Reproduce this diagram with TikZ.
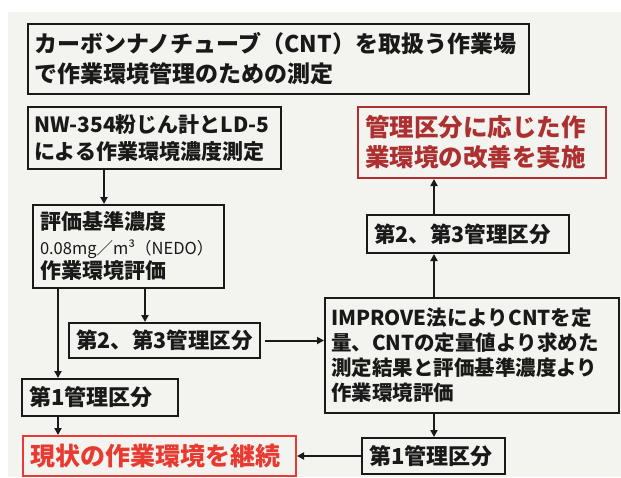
\documentclass[tikz,border=0pt]{standalone}
\usepackage{fontspec}
\setmainfont{Noto Sans CJK JP}
\usetikzlibrary{arrows.meta}
\definecolor{bgc}{RGB}{243,243,240}
\definecolor{darkred}{RGB}{172,48,48}
\definecolor{brightred}{RGB}{232,58,48}
\definecolor{inkc}{RGB}{25,25,25}
\tikzset{
  box/.style={draw=inkc, line width=2pt, anchor=north west, align=left,
    inner xsep=6pt, inner ysep=0pt, text=inkc},
  arr/.style={draw=inkc, line width=2pt, -{Triangle[length=7pt,width=7pt]}},
}
\begin{document}
\begin{tikzpicture}[x=1pt,y=-1pt]
\useasboundingbox (0,0) rectangle (621,477);
\fill[white] (0,0) rectangle (621,477);
\fill[bgc] (8,12) rectangle (621,477);

\node[box, minimum width=501pt, minimum height=70pt, text width=489pt,
  font=\fontsize{23}{30}\selectfont\bfseries] (title) at (27,23)
  {カーボンナノチューブ（CNT）を取扱う作業場\\で作業環境管理のための測定};

\node[box, minimum width=253pt, minimum height=62pt, text width=241pt,
  font=\fontsize{21}{27}\selectfont\bfseries] (nw) at (27,106)
  {NW-354粉じん計とLD-5\\による作業環境濃度測定};

\node[box, draw=darkred, text=darkred, minimum width=248pt, minimum height=71pt, text width=234pt,
  inner xsep=7pt, font=\fontsize{24.5}{30}\selectfont\bfseries] (redtop) at (357,106)
  {管理区分に応じた作\\業環境の改善を実施};

\node[box, minimum width=191pt, minimum height=83pt, text width=177pt, inner xsep=7pt,
  font=\fontsize{21}{24.5}\selectfont] (eval) at (32,204)
  {{\bfseries 評価基準濃度}\\{\fontsize{16.5}{24.5}\selectfont 0.08mg／m³（NEDO）}\\{\bfseries 作業環境評価}};

\node[box, minimum width=202pt, minimum height=38pt, text width=188pt, inner xsep=7pt,
  font=\fontsize{21.5}{26}\selectfont\bfseries] (sec2r) at (366,214)
  {第2、第3管理区分};

\node[box, minimum width=191pt, minimum height=35pt, text width=177pt, inner xsep=7pt,
  font=\fontsize{21.5}{26}\selectfont\bfseries] (sec2l) at (68,322)
  {第2、第3管理区分};

\node[box, minimum width=294pt, minimum height=115pt, text width=282pt,
  font=\fontsize{20.5}{25}\selectfont\bfseries] (imp) at (324,297)
  {IMPROVE法によりCNTを定\\量、CNTの定量値より求めた\\測定結果と評価基準濃度より\\作業環境評価};

\node[box, minimum width=156pt, minimum height=37pt, text width=142pt, inner xsep=7pt,
  font=\fontsize{22}{26}\selectfont\bfseries] (firstl) at (21,378)
  {第1管理区分};

\node[box, draw=brightred, text=brightred, minimum width=273pt, minimum height=40pt, text width=259pt,
  inner xsep=7pt, font=\fontsize{25}{30}\selectfont\bfseries] (redbot) at (22,435)
  {現状の作業環境を継続};

\node[box, minimum width=143pt, minimum height=36pt, text width=129pt, inner xsep=7pt,
  font=\fontsize{22}{26}\selectfont\bfseries] (firstr) at (361,437)
  {第1管理区分};

\coordinate (xa) at (104,0);
\coordinate (xb) at (58,0);
\coordinate (xc) at (145,0);
\coordinate (xd) at (434,0);

\draw[arr] (nw.south -| xa) -- (eval.north -| xa);
\draw[arr] (eval.south -| xb) -- (firstl.north -| xb);
\draw[arr] (eval.south -| xc) -- (sec2l.north -| xc);
\draw[arr] ([xshift=4pt]sec2l.east) -- (sec2l.east -| imp.west);
\draw[arr] (imp.north -| xd) -- (sec2r.south -| xd);
\draw[arr] (sec2r.north -| xd) -- (redtop.south -| xd);
\draw[arr] (imp.south -| xd) -- (firstr.north -| xd);
\draw[arr] (firstr.west) -- (firstr.west -| redbot.east);
\draw[arr] (firstl.south -| xb) -- (redbot.north -| xb);
\end{tikzpicture}
\end{document}
